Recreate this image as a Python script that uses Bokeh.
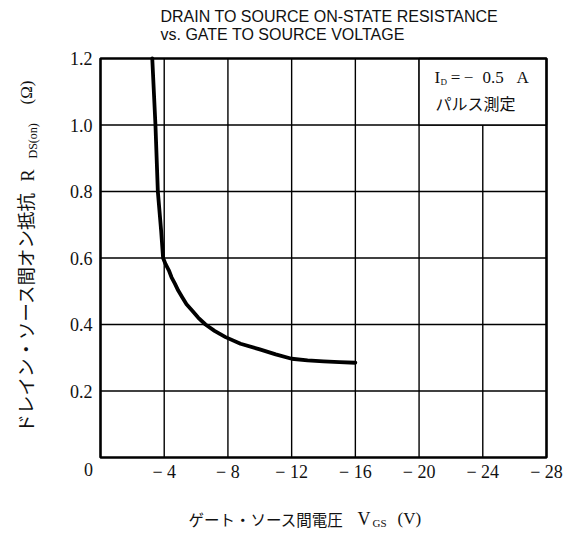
import math
from bokeh.plotting import figure
from bokeh.models import Range1d, Label
from bokeh.core.properties import value
from bokeh.embed import file_html
from bokeh.resources import INLINE

# ---- data ----
vgs = [-3.25, -3.45, -3.6, -3.81, -3.93, -4.08, -4.29, -4.46, -4.67, -4.88,
       -5.13, -5.4, -5.75, -6.13, -6.59, -7.16, -7.85, -8.79, -10.0, -11.0,
       -12.0, -13.0, -14.0, -15.0, -16.0]
rds = [1.2, 1.0, 0.8, 0.68, 0.6, 0.582, 0.563, 0.542, 0.523, 0.502,
       0.482, 0.461, 0.442, 0.421, 0.4, 0.381, 0.362, 0.342, 0.325, 0.31,
       0.297, 0.292, 0.289, 0.287, 0.285]
x_ticks = [-4, -8, -12, -16, -20, -24, -28]
x_tick_labels = ["− 4", "− 8", "− 12", "− 16", "− 20", "− 24", "− 28"]
y_ticks = [0.2, 0.4, 0.6, 0.8, 1.0, 1.2]
y_tick_labels = ["0.2", "0.4", "0.6", "0.8", "1.0", "1.2"]
x_grid = [-4, -8, -12, -16, -20, -24]
y_grid = [0.2, 0.4, 0.6, 0.8, 1.0]
title1 = "DRAIN  TO  SOURCE  ON-STATE  RESISTANCE"
title2 = "vs.  GATE  TO  SOURCE  VOLTAGE"

XMIN, XMAX = 0, -28
YMIN, YMAX = 0, 1.2

W, H = 571, 533
FL, FT, FW, FH = 100, 58, 446, 399      # chart box within the canvas (px)
sx = FW / (XMAX - XMIN)                  # px per unit (negative)
sy = FH / (YMAX - YMIN)
x_left = XMIN - FL / sx
x_right = XMIN + (W - FL) / sx
y_top = YMAX + FT / sy
y_bot = YMAX - (H - FT) / sy

p = figure(width=W, height=H, output_backend="svg", toolbar_location=None,
           x_range=Range1d(x_left, x_right), y_range=Range1d(y_bot, y_top),
           x_axis_type=None, y_axis_type=None, min_border=0)
p.background_fill_color = "white"
p.border_fill_color = "white"
p.outline_line_color = None
p.xgrid.visible = False
p.ygrid.visible = False


# helpers: canvas-pixel -> data coords (text placement only)
def dx(px):
    return XMIN + (px - FL) / sx


def dy(py):
    return YMAX - (py - FT) / sy


# grid lines
p.segment(x0=x_grid, y0=[YMIN] * len(x_grid), x1=x_grid, y1=[YMAX] * len(x_grid),
          line_color="black", line_width=1.4)
p.segment(x0=[XMIN] * len(y_grid), y0=y_grid, x1=[XMAX] * len(y_grid), y1=y_grid,
          line_color="black", line_width=1.4)

# white legend box in top-right cell
p.quad(left=-20, right=-28, bottom=1.0, top=1.2, fill_color="white",
       line_color="black", line_width=1.4)

# chart border
p.quad(left=XMIN, right=XMAX, bottom=YMIN, top=YMAX, fill_color=None,
       line_color="black", line_width=2.6)

# curve
p.line(vgs, rds, line_color="black", line_width=3.8, line_join="round", line_cap="round")

# tick labels
p.text(x=x_ticks, y=[dy(471)] * len(x_ticks), text=x_tick_labels,
       text_font=value("Liberation Serif"), text_font_size="18px",
       text_align="center", text_baseline="middle", text_color="#111111")
p.text(x=[dx(92)] * len(y_ticks), y=y_ticks, text=y_tick_labels,
       text_font=value("Liberation Serif"), text_font_size="18px",
       text_align="right", text_baseline="middle", text_color="#111111")


def lab(x, y, text, font="Liberation Serif", size="16px", align="left",
        baseline="middle", angle=0.0, color="#111111"):
    p.add_layout(Label(x=x, y=y, text=text, text_font=font, text_font_size=size,
                       text_align=align, text_baseline=baseline, angle=angle,
                       text_color=color))


# "0" origin label
lab(dx(88), dy(469), "0", size="18px", align="center")

# title
lab(dx(160), dy(16), title1, font="Liberation Sans", size="16px")
lab(dx(160), dy(34), title2, font="Liberation Sans", size="16px")

# box text
lab(dx(434), dy(77), "I", size="17px")
lab(dx(440), dy(81), "D", size="9px")
lab(dx(455), dy(77), "=", size="17px", align="center")
lab(dx(468), dy(77), "−", size="17px", align="center")
lab(dx(482), dy(77), "0.5", size="17px")
lab(dx(516), dy(77), "A", size="17px")
lab(dx(435), dy(102), "パルス測定", font="Noto Sans CJK JP", size="16px")

# x axis label
lab(dx(188), dy(518), "ゲート・ソース間電圧", font="Noto Sans CJK JP", size="15.5px")
lab(dx(357), dy(518), "V", size="18px")
lab(dx(372), dy(522), "GS", size="11px")
lab(dx(397), dy(518), "(V)", size="17px")

# y axis label (rotated, reads bottom to top)
A = math.pi / 2
lab(dx(24), dy(432), "ドレイン・ソース間オン抵抗", font="Noto Sans CJK JP",
    size="18.5px", angle=A)
lab(dx(27), dy(181), "R", size="18px", angle=A)
lab(dx(32), dy(158), "DS(on)", size="12px", angle=A)
lab(dx(26), dy(104), "(Ω)", size="17px", angle=A)

open("out.html", "w").write(file_html(p, INLINE))
